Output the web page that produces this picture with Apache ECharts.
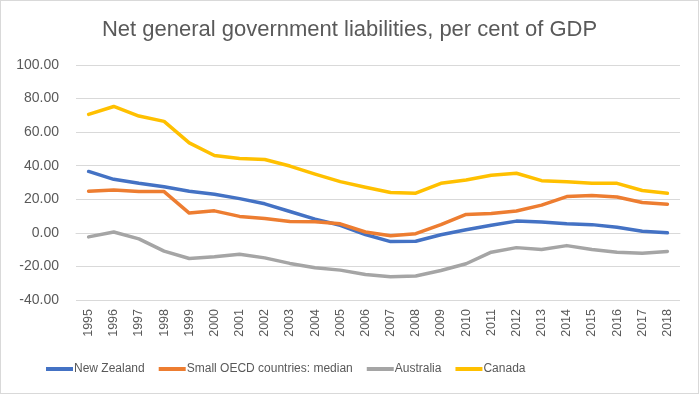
<!DOCTYPE html>
<html><head><meta charset="utf-8">
<script src="https://cdn.jsdelivr.net/npm/echarts@6/dist/echarts.min.js"></script>
<style>html,body{margin:0;padding:0;background:#fff}#c{width:699px;height:394px;box-sizing:border-box;border:1px solid #d9d9d9}</style>
</head><body><div id="c"></div>
<script>
const years = ['1995','1996','1997','1998','1999','2000','2001','2002','2003','2004','2005','2006','2007','2008','2009','2010','2011','2012','2013','2014','2015','2016','2017','2018'];
const newZealand = [36.6,31.9,29.5,27.5,24.8,23.0,20.4,17.3,12.7,8.2,4.5,-1.0,-5.2,-5.0,-1.1,1.9,4.5,7.0,6.4,5.4,4.9,3.3,0.9,0.0];
const smallOecdMedian = [24.8,25.6,24.6,24.6,11.8,13.1,9.8,8.6,6.8,6.6,5.4,0.5,-1.7,-0.5,4.9,11.0,11.6,13.0,16.5,21.6,22.2,21.4,18.1,17.1];
const australia = [-2.4,0.5,-3.6,-10.9,-15.3,-14.3,-12.7,-14.9,-18.2,-20.8,-22.2,-24.8,-26.1,-25.7,-22.4,-18.4,-11.5,-8.8,-9.9,-7.6,-9.9,-11.5,-12.1,-11.1];
const canada = [70.6,75.3,69.6,66.4,53.6,46.1,44.3,43.7,39.8,35.0,30.5,27.2,24.0,23.6,29.5,31.5,34.3,35.5,31.1,30.5,29.5,29.5,25.2,23.6];
const seriesNames = ['New Zealand','Small OECD countries: median','Australia','Canada'];
const colors = ['#4472C4','#ED7D31','#A5A5A5','#FFC000'];
const font = "'Liberation Sans Narrow', 'Liberation Sans', sans-serif";
const chart = echarts.init(document.getElementById('c'));
const mk = (name, data, color) => ({name, type:'line', data, showSymbol:false, symbol:'none', smooth:false,
  lineStyle:{width:3.5, color, cap:'round', join:'round'}, itemStyle:{color}});
chart.setOption({
  animation:false,
  title:{text:'Net general government liabilities, per cent of GDP', left:'center', top:13,
    textStyle:{fontFamily:font, fontSize:22, fontWeight:'normal', color:'#595959'}},
  color:colors,
  grid:{left:75, right:18, top:64, bottom:93},
  legend:{bottom:13, left:40, icon:'rect', itemWidth:27, itemHeight:4, itemGap:14,
    textStyle:{fontFamily:font, fontSize:12, color:'#595959', padding:[0,0,0,-4]},
    data:seriesNames},
  xAxis:{type:'category', data:years, boundaryGap:true,
    axisLine:{show:true, lineStyle:{color:'#d9d9d9'}}, axisTick:{show:false},
    axisLabel:{rotate:90, fontFamily:font, fontSize:12.5, color:'#595959', interval:0, margin:9}},
  yAxis:{type:'value', min:-40, max:100, interval:20,
    axisLine:{show:false}, axisTick:{show:false},
    splitLine:{lineStyle:{color:'#d9d9d9', width:1}},
    axisLabel:{formatter:v=>v.toFixed(2), fontFamily:font, fontSize:14, color:'#595959', margin:17}},
  series:[mk(seriesNames[0],newZealand,colors[0]), mk(seriesNames[1],smallOecdMedian,colors[1]),
          mk(seriesNames[2],australia,colors[2]), mk(seriesNames[3],canada,colors[3])]
});
</script></body></html>
